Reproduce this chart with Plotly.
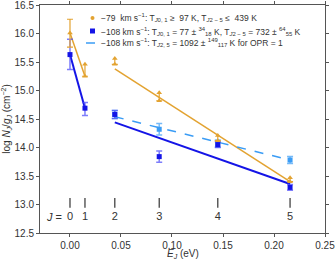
import plotly.graph_objects as go

# Energies of H2 rotational levels (eV)
J_levels = [0, 1, 2, 3, 4, 5]
E_J = [0.0, 0.01469, 0.04394, 0.08747, 0.14491, 0.21575]

# -79 km/s component (orange): J=0 measured, J>=1 lower limits
orange_y = [16.01, 15.25, 15.46, 14.82, 14.12, 13.40]
orange_err_up = [0.24, 0.0, 0.0, 0.0, 0.0, 0.0]
orange_err_dn = [0.25, 0.0, 0.0, 0.0, 0.0, 0.0]
orange_limit_top = [None, 15.46, 15.56, 14.96, 14.21, 13.47]

# -108 km/s component (dark blue)
blue_y = [15.63, 14.69, 14.58, 13.84, 14.05, 13.30]
blue_err_up = [0.27, 0.10, 0.07, 0.10, 0.05, 0.05]
blue_err_dn = [0.26, 0.13, 0.07, 0.10, 0.05, 0.05]

# -108 km/s with OPR = 1 (light blue), J = 2..5
lblue_E = [0.04394, 0.08747, 0.14491, 0.21575]
lblue_y = [14.58, 14.32, 14.07, 13.78]
lblue_err = [0.07, 0.10, 0.06, 0.06]

# Fit lines
orange_fit1_x = [0.0, 0.01469]
orange_fit1_y = [16.01, 15.25]
orange_fit2_x = [0.04394, 0.21575]
orange_fit2_y = [15.38, 13.40]
blue_fit1_x = [0.0, 0.01469]
blue_fit1_y = [15.63, 14.69]
blue_fit2_x = [0.04394, 0.21575]
blue_fit2_y = [14.44, 13.36]
lblue_fit_x = [0.04394, 0.21575]
lblue_fit_y = [14.54, 13.78]

ORANGE = "#E3A331"
BLUE = "#1414E6"
LBLUE = "#3A9CF5"
TXT = "#333333"

fig = go.Figure()

# fit lines
for fx, fy in [(orange_fit1_x, orange_fit1_y), (orange_fit2_x, orange_fit2_y)]:
    fig.add_trace(go.Scatter(x=fx, y=fy, mode="lines", line=dict(color=ORANGE, width=1.5), showlegend=False))
for fx, fy in [(blue_fit1_x, blue_fit1_y), (blue_fit2_x, blue_fit2_y)]:
    fig.add_trace(go.Scatter(x=fx, y=fy, mode="lines", line=dict(color=BLUE, width=2), showlegend=False))
fig.add_trace(go.Scatter(x=lblue_fit_x, y=lblue_fit_y, mode="lines",
                         line=dict(color=LBLUE, width=1.5, dash="dash"), showlegend=False))

# light blue points
fig.add_trace(go.Scatter(x=lblue_E, y=lblue_y, mode="markers",
                         marker=dict(color=LBLUE, size=5, symbol="square"),
                         error_y=dict(type="data", array=lblue_err, color="rgba(58,156,245,0.7)",
                                      thickness=1.5, width=3),
                         showlegend=False))

# dark blue points
fig.add_trace(go.Scatter(x=E_J, y=blue_y, mode="markers",
                         marker=dict(color=BLUE, size=5, symbol="square"),
                         error_y=dict(type="data", array=blue_err_up, arrayminus=blue_err_dn,
                                      color="rgba(70,70,250,0.7)", thickness=1.5, width=3),
                         showlegend=False))

# orange lower-limit stems
stem_x, stem_y = [], []
for x, y, t in zip(E_J, orange_y, orange_limit_top):
    if t is not None:
        stem_x += [x, x, None]
        stem_y += [y, t, None]
fig.add_trace(go.Scatter(x=stem_x, y=stem_y, mode="lines", line=dict(color=ORANGE, width=1.2),
                         showlegend=False))
fig.add_trace(go.Scatter(x=[x for x, t in zip(E_J, orange_limit_top) if t is not None],
                         y=[t for t in orange_limit_top if t is not None], mode="markers",
                         marker=dict(color=ORANGE, size=5, symbol="triangle-up"), showlegend=False))
# orange points
fig.add_trace(go.Scatter(x=E_J, y=orange_y, mode="markers",
                         marker=dict(color=ORANGE, size=5, symbol="triangle-up"),
                         error_y=dict(type="data", array=orange_err_up, arrayminus=orange_err_dn,
                                      color=ORANGE, thickness=1.2, width=3),
                         showlegend=False))

# J level markers and labels
fig.add_trace(go.Scatter(x=E_J, y=[13.03] * len(E_J), mode="markers",
                         marker=dict(symbol="line-ns", size=7, line=dict(color=TXT, width=1.2)),
                         showlegend=False, hoverinfo="skip"))
fig.add_trace(go.Scatter(x=E_J, y=[12.78] * len(E_J), mode="text",
                         text=[str(j) for j in J_levels],
                         textfont=dict(size=11, color=TXT, family="Liberation Sans"),
                         showlegend=False, hoverinfo="skip"))
fig.add_annotation(x=-0.006, y=12.78, xref="x", yref="y", text="<i>J</i> =", showarrow=False,
                   xanchor="right", font=dict(size=11, color=TXT))

# Legend (manual)
def py(ypx):
    return (233 - ypx) / 228.0

def px(xpx):
    return (xpx - 40) / 285.0

legend_rows = [
    "−79  km s<sup>−1</sup>: T<sub><i>J</i>0, 1</sub> ≥  97 K, T<sub><i>J</i>2 − 5</sub> ≤  439 K",
    "−108 km s<sup>−1</sup>: T<sub><i>J</i>0, 1</sub> = 77 ± <sup>34</sup><sub>18</sub> K, T<sub><i>J</i>2 − 5</sub> = 732 ± <sup>64</sup><sub>55</sub> K",
    "−108 km s<sup>−1</sup>: T<sub><i>J</i>2, 5</sub> = 1092 ± <sup>149</sup><sub>117</sub> K for OPR = 1",
]
row_px = [18, 31, 43]
for txt, r in zip(legend_rows, row_px):
    fig.add_annotation(x=px(99), y=py(r), xref="paper", yref="paper", text=txt, showarrow=False,
                       xanchor="left", yanchor="middle", font=dict(size=8.5, color=TXT))
fig.add_shape(type="circle", xref="paper", yref="paper",
              x0=px(90.5), x1=px(94.5), y0=py(20), y1=py(16), fillcolor=ORANGE, line=dict(width=0))
fig.add_shape(type="rect", xref="paper", yref="paper",
              x0=px(90), x1=px(95), y0=py(33.5), y1=py(28.5), fillcolor=BLUE, line=dict(width=0))
fig.add_shape(type="line", xref="paper", yref="paper",
              x0=px(86), x1=px(97), y0=py(43), y1=py(43), line=dict(color=LBLUE, width=1.5, dash="dash"))

# x-axis title as annotation for exact placement
fig.add_annotation(x=0.5, y=py(252), xref="paper", yref="paper", yshift=-2,
                   text="<i>E<sub>J</sub></i> (eV)", showarrow=False, xanchor="center", yanchor="middle",
                   font=dict(size=10, color=TXT), borderpad=0)

axis_common = dict(showline=True, linecolor="#555555", linewidth=1, mirror="ticks",
                   ticks="outside", ticklen=3, tickcolor="#555555", showgrid=False, zeroline=False,
                   tickfont=dict(size=10, color=TXT), ticklabeloverflow="allow", automargin=False)
fig.update_xaxes(range=[-0.0294, 0.25], tickvals=[0, 0.05, 0.1, 0.15, 0.2, 0.25], tickformat=".2f",
                 **axis_common)
fig.update_yaxes(range=[12.5, 16.5], tickvals=[12.5, 13, 13.5, 14, 14.5, 15, 15.5, 16, 16.5], tickformat=".1f",
                 title=dict(text="log <i>N<sub>J</sub></i>/<i>g<sub>J</sub></i> (cm<sup>−2</sup>)",
                            font=dict(size=10, color=TXT), standoff=4),
                 **axis_common)

fig.update_layout(width=336, height=260, margin=dict(l=40, r=11, t=5, b=27),
                  paper_bgcolor="white", plot_bgcolor="white",
                  font=dict(family="Liberation Sans, Arial, sans-serif", color=TXT),
                  showlegend=False)

fig.write_html("out.html", config={"displayModeBar": False},
               post_script="document.body.style.margin='0';document.body.style.overflow='hidden';")
